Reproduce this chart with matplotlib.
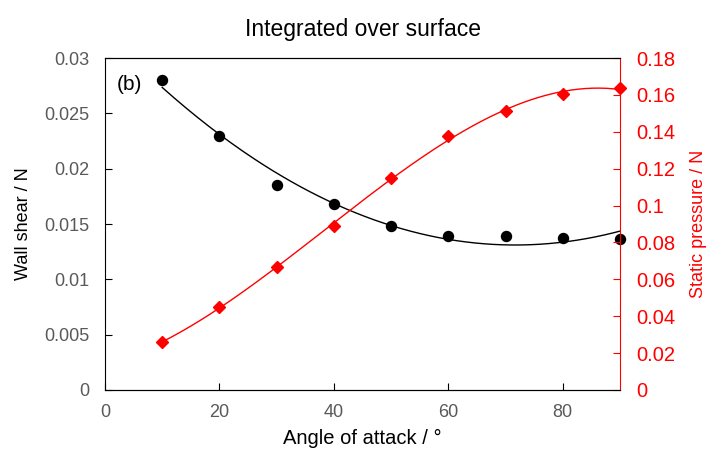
import numpy as np
import matplotlib
matplotlib.use("Agg")
import matplotlib.pyplot as plt

plt.rcParams['font.family'] = ['Liberation Sans', 'DejaVu Sans']

angle = [10, 20, 30, 40, 50, 60, 70, 80, 90]
wall_shear = [0.0280, 0.0230, 0.0185, 0.0168, 0.0148, 0.0139, 0.0139, 0.0137, 0.01365]
static_pressure = [0.0260, 0.0450, 0.0667, 0.0889, 0.1149, 0.1377, 0.1513, 0.1605, 0.1637]

grey = '#595959'

fig = plt.figure(figsize=(7.07, 4.54), dpi=100)
ax = fig.add_axes([0.1485, 0.141, 0.7285, 0.731])
ax2 = ax.twinx()

# trendlines (polynomial fits like excel)
xs = np.linspace(10, 90, 200)
p1 = np.polyfit(angle, wall_shear, 2)
p2 = np.polyfit(angle, static_pressure, 3)
ax.plot(xs, np.polyval(p1, xs), color='black', lw=1)
ax2.plot(xs, np.polyval(p2, xs), color='red', lw=1)

ax.plot(angle, wall_shear, 'o', color='black', ms=7.2, clip_on=False, zorder=5)
ax2.plot(angle, static_pressure, 'D', color='red', ms=6, clip_on=False, zorder=5)

ax.set_xlim(0, 90)
ax.set_ylim(0, 0.03)
ax2.set_ylim(0, 0.18)
ax.set_xticks([0, 20, 40, 60, 80])
ax.set_yticks([0, 0.005, 0.01, 0.015, 0.02, 0.025, 0.03])
ax.set_yticklabels(['0', '0.005', '0.01', '0.015', '0.02', '0.025', '0.03'])
ax2.set_yticks([0, 0.02, 0.04, 0.06, 0.08, 0.1, 0.12, 0.14, 0.16, 0.18])
ax2.set_yticklabels(['0', '0.02', '0.04', '0.06', '0.08', '0.1', '0.12', '0.14', '0.16', '0.18'])

ax.tick_params(direction='in', labelsize=13, labelcolor=grey, length=5)
ax.tick_params(axis='y', pad=11)
ax.tick_params(axis='x', pad=10)
ax2.tick_params(direction='in', labelsize=14.5, colors='red', length=5, pad=12)
ax2.spines['right'].set_color('red')
ax2.spines['left'].set_visible(False)
ax.spines['right'].set_visible(False)

ax.set_xlabel('Angle of attack / °', fontsize=14.5, labelpad=6)
ax.set_ylabel('Wall shear / N', fontsize=13, labelpad=9)
ax2.set_ylabel('Static pressure / N', fontsize=13, color='red', labelpad=10)
ax.set_title('Integrated over surface', fontsize=16.5, pad=16)
ax.text(0.023, 0.92, '(b)', transform=ax.transAxes, fontsize=15, va='center')

fig.savefig('out.png', dpi=100)
